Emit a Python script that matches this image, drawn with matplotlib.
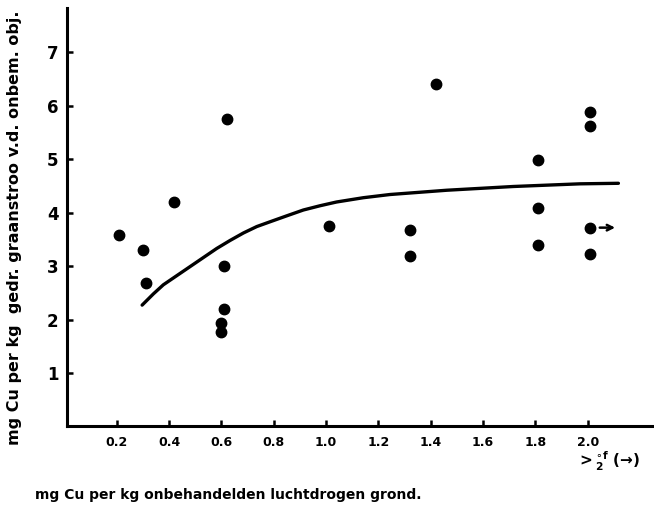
import matplotlib
matplotlib.use("Agg")
import matplotlib.pyplot as plt

# Data
soil_cu = [0.21, 0.30, 0.31, 0.42, 0.62, 0.61, 0.61, 0.60, 0.60,
           1.01, 1.32, 1.32, 1.42,
           1.81, 1.81, 1.81, 2.01, 2.01, 2.01, 2.01]
straw_cu = [3.58, 3.31, 2.69, 4.20, 5.75, 3.01, 2.20, 1.94, 1.77,
            3.75, 3.68, 3.19, 6.41,
            4.98, 4.09, 3.40, 5.89, 5.63, 3.72, 3.23]

curve_x = [0.297, 0.340, 0.378, 0.429, 0.480, 0.531, 0.582, 0.633, 0.684,
           0.735, 0.786, 0.849, 0.913, 0.977, 1.040, 1.142, 1.244,
           1.461, 1.715, 1.970, 2.117]
curve_y = [2.27, 2.48, 2.65, 2.82, 2.99, 3.16, 3.33, 3.48, 3.62,
           3.74, 3.83, 3.94, 4.05, 4.13, 4.20, 4.28, 4.34,
           4.42, 4.49, 4.54, 4.55]

xticks = [0.2, 0.4, 0.6, 0.8, 1.0, 1.2, 1.4, 1.6, 1.8, 2.0]
xtick_labels = ["0.2", "0.4", "0.6", "0.8", "1.0", "1.2", "1.4", "1.6", "1.8", "2.0"]
yticks = [1, 2, 3, 4, 5, 6, 7]
ytick_labels = ["1", "2", "3", "4", "5", "6", "7"]

arrow_point = (2.01, 3.72)
arrow_end_x = 2.115

fig = plt.figure(figsize=(6.54, 5.09), dpi=100)
ax = fig.add_axes([67 / 654, (509 - 426.4) / 509, (654 - 67) / 654, (426.4 - 8) / 509])

x0_px = 64.4
px_per_unit = 261.7
ax.set_xlim((67 - x0_px) / px_per_unit, (654 - x0_px) / px_per_unit)
ax.set_ylim(0, (426.4 - 8) / 53.43)

ax.plot(curve_x, curve_y, color="black", lw=2.4, solid_capstyle="round",
        solid_joinstyle="round")
ax.plot(soil_cu, straw_cu, "o", color="black", markersize=7.5)
ax.annotate("", xy=(arrow_end_x, arrow_point[1]), xytext=(arrow_point[0] + 0.025, arrow_point[1]),
            arrowprops=dict(arrowstyle="->", color="black", lw=1.8))

for s in ["top", "right"]:
    ax.spines[s].set_visible(False)
for s in ["left", "bottom"]:
    ax.spines[s].set_linewidth(2.2)

ax.set_xticks(xticks)
ax.set_xticklabels(xtick_labels, fontsize=9, fontweight="bold")
ax.set_yticks(yticks)
ax.set_yticklabels(ytick_labels, fontsize=12, fontweight="bold")
ax.tick_params(axis="both", direction="in", length=4, width=1.8, color="black")
ax.tick_params(axis="x", pad=7)
ax.tick_params(axis="y", pad=6)

fig.text(15 / 654, 1 - 228 / 509, "mg Cu per kg  gedr. graanstroo v.d. onbem. obj.",
         rotation=90, ha="center", va="center", fontsize=11.5, fontweight="bold")
fig.text(35 / 654, 1 - 495 / 509, "mg Cu per kg onbehandelden luchtdrogen grond.",
         ha="left", va="center", fontsize=10, fontweight="bold")
fig.text(577 / 654, 1 - 461 / 509, r"$\mathbf{>}^{\circ\mathbf{f}}_{\mathbf{2}}$ (→)",
         ha="left", va="center", fontsize=11, fontweight="bold")

fig.savefig("out.png", dpi=100)
